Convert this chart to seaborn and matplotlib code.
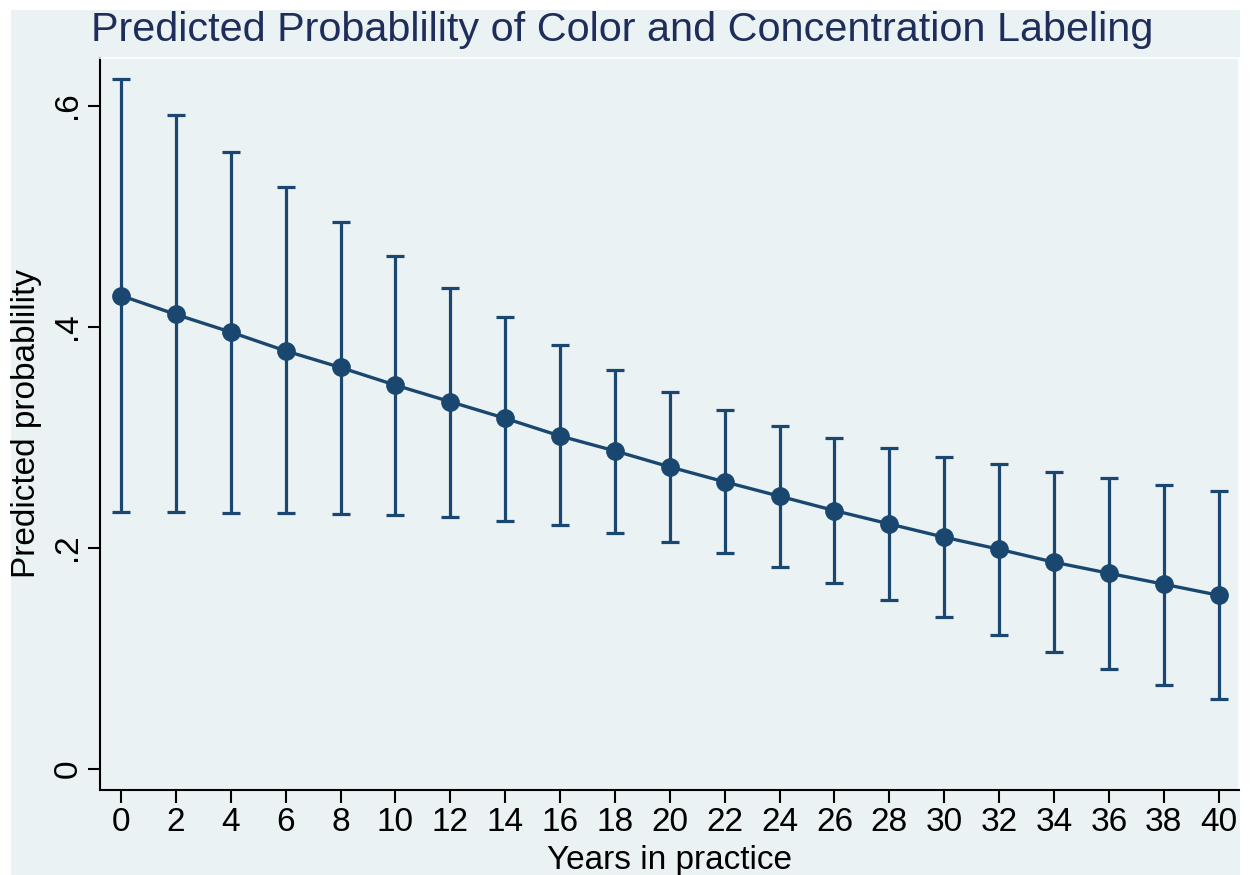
import matplotlib

matplotlib.use("Agg")
import matplotlib.pyplot as plt
import pandas as pd
import seaborn as sns
from matplotlib.patches import Rectangle


YEARS = [0, 2, 4, 6, 8, 10, 12, 14, 16, 18, 20, 22, 24, 26, 28, 30, 32, 34, 36, 38, 40]
PREDICTED = [0.428, 0.411, 0.395, 0.378, 0.363, 0.347, 0.332, 0.317, 0.301, 0.2875, 0.273,
             0.2595, 0.2465, 0.2335, 0.2214, 0.2094, 0.1985, 0.1868, 0.1768, 0.1669, 0.1569]
UPPER = [0.624, 0.591, 0.558, 0.526, 0.4945, 0.4643, 0.4353, 0.4085, 0.3832, 0.3608, 0.3409,
         0.3243, 0.3104, 0.299, 0.29, 0.2821, 0.2755, 0.2688, 0.2628, 0.257, 0.2513]
LOWER = [0.232, 0.232, 0.2317, 0.2314, 0.2308, 0.2296, 0.2275, 0.2242, 0.2201, 0.2136, 0.2054,
         0.1949, 0.1823, 0.1683, 0.1529, 0.137, 0.121, 0.1056, 0.0905, 0.0757, 0.0628]
Y_TICKS = [0, 0.2, 0.4, 0.6]
Y_TICK_LABELS = ["0", ".2", ".4", ".6"]

TITLE = "Predicted Probablility of Color and Concentration Labeling"
NAVY = "#1a476f"
TITLE_COLOR = "#1e2d5a"
BG = "#eaf2f3"
W, H = 1251, 875


def main() -> None:
    sns.set_theme(style="ticks")
    plt.rcParams["font.family"] = ["Liberation Sans", "DejaVu Sans"]

    df = pd.DataFrame({"years": YEARS, "pred": PREDICTED, "upper": UPPER, "lower": LOWER})

    fig = plt.figure(figsize=(W / 100, H / 100), dpi=100, facecolor="white")
    fig.patches.append(
        Rectangle((11 / W, 0), (1240 - 11) / W, (H - 10) / H, transform=fig.transFigure,
                  facecolor=BG, edgecolor="none", zorder=-10)
    )
    ax = fig.add_axes([100 / W, (H - 790) / H, 1139 / W, 732 / H])
    ax.set_facecolor(BG)

    ax.errorbar(
        df["years"], df["pred"],
        yerr=[df["pred"] - df["lower"], df["upper"] - df["pred"]],
        fmt="none", ecolor=NAVY, elinewidth=2.3, capsize=6.5, capthick=2.3, zorder=2,
    )
    sns.lineplot(
        data=df, x="years", y="pred", color=NAVY, linewidth=2.4,
        marker="o", markersize=13.5, markeredgewidth=0, ax=ax, zorder=3,
    )

    ax.set_xlim(-0.765, 40.74)
    ax.set_ylim(-0.0193, 0.643)
    ax.set_xticks(YEARS)
    ax.set_xticklabels([str(y) for y in YEARS])
    ax.set_yticks(Y_TICKS)
    ax.set_yticklabels(Y_TICK_LABELS, rotation=90, va="center")
    ax.tick_params(axis="both", labelsize=24, colors="black", length=9, width=1.5)
    ax.tick_params(axis="x", pad=3)
    ax.tick_params(axis="y", pad=3)

    for side in ["left", "bottom"]:
        ax.spines[side].set_color("black")
        ax.spines[side].set_linewidth(1.5)
    for side in ["top", "right"]:
        ax.spines[side].set_color("white")
        ax.spines[side].set_linewidth(1.2)

    ax.set_xlabel("Years in practice", fontsize=24, color="black")
    ax.set_ylabel("Predicted probablility", fontsize=24, color="black")
    ax.xaxis.set_label_coords(0.5, -0.075)
    ax.yaxis.set_label_coords(-0.051, 0.5)

    fig.text(622 / W, (H - 41) / H, TITLE, ha="center", va="baseline",
             fontsize=29.8, color=TITLE_COLOR)

    fig.savefig("out.png", dpi=100, facecolor=fig.get_facecolor())
    plt.close(fig)


if __name__ == "__main__":
    main()
